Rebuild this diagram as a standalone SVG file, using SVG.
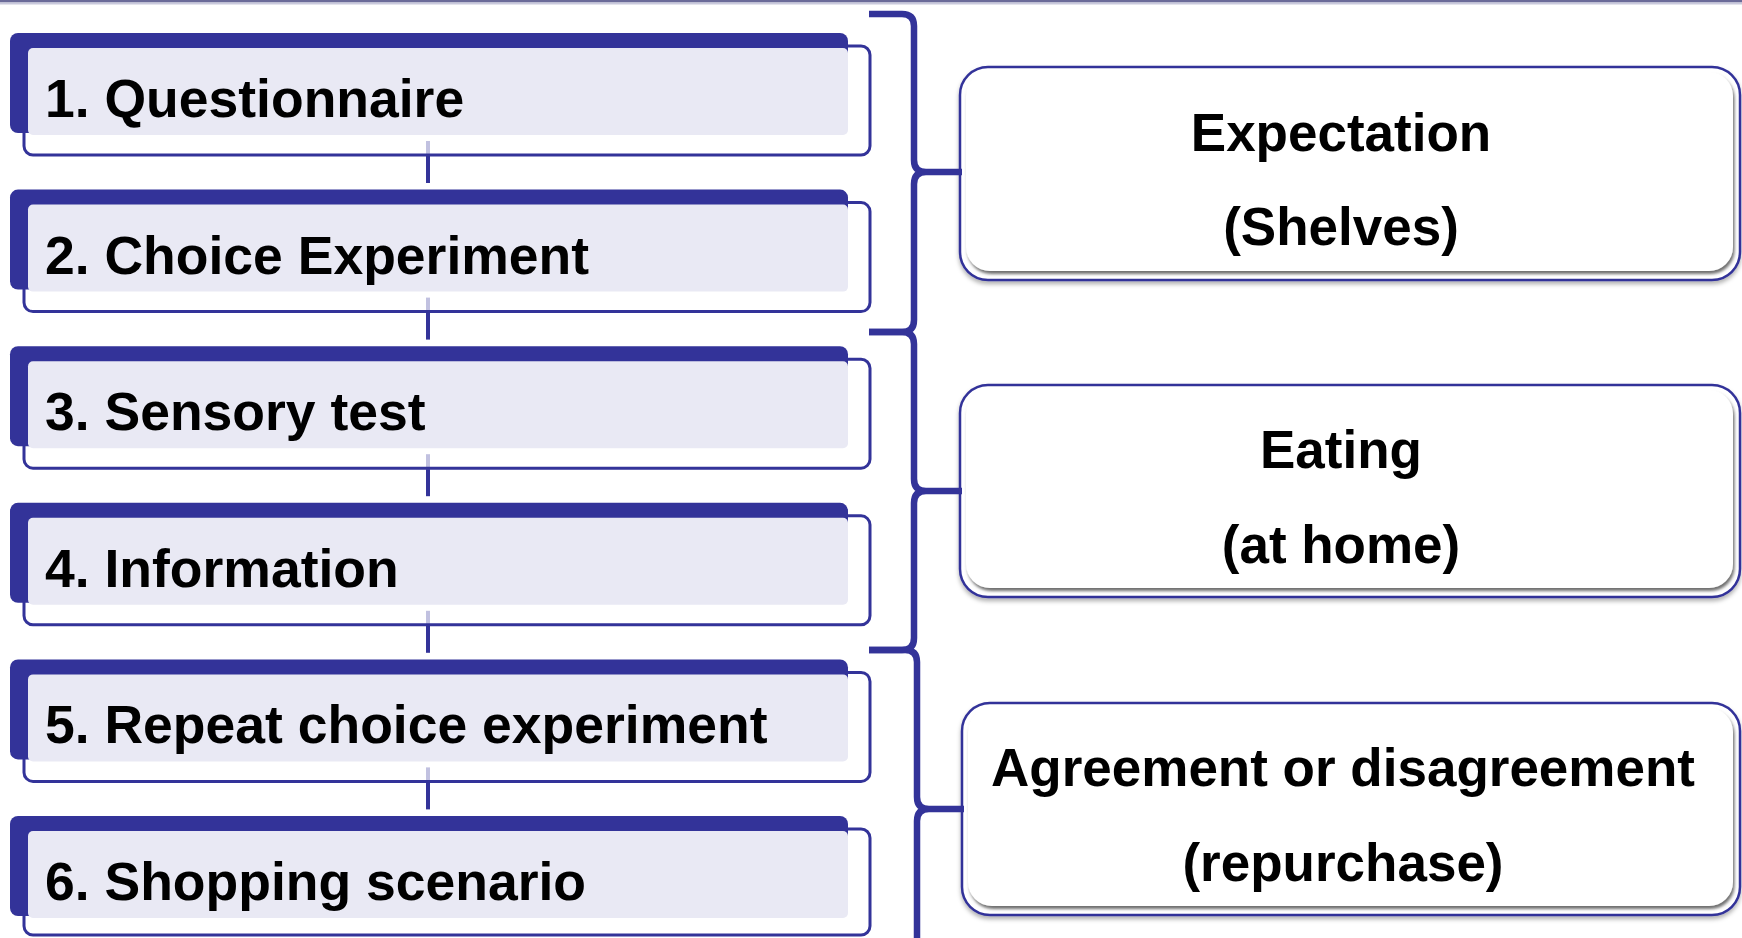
<svg xmlns="http://www.w3.org/2000/svg" width="1742" height="938" viewBox="0 0 1742 938">
<style>
.outline{fill:#ffffff;stroke:#333399;stroke-width:3}
.tab{fill:#333399}
.inner{fill:#e9e9f4}
.lt{font-family:"Liberation Sans",Arial,sans-serif;font-weight:bold;font-size:53.5px;fill:#000}
.rt{font-family:"Liberation Sans",Arial,sans-serif;font-weight:bold;font-size:53px;fill:#000;text-anchor:middle}
.router{fill:#ffffff;stroke:#333399;stroke-width:2.5}
.rinner{fill:#ffffff}
.conn{stroke:#333399;stroke-width:4;fill:none}
.faded{stroke:#333399;stroke-width:4;fill:none;opacity:0.3}
.brace{stroke:#333399;stroke-width:6.5;fill:none;stroke-linejoin:round}
</style>
<defs>
<filter id="outerShadow" x="-5%" y="-10%" width="110%" height="125%">
<feDropShadow dx="0" dy="3" stdDeviation="2" flood-color="#000" flood-opacity="0.3"/>
</filter>
<filter id="bevel" x="-5%" y="-10%" width="110%" height="125%">
<feDropShadow dx="1.5" dy="3" stdDeviation="1.5" flood-color="#555" flood-opacity="0.85"/>
</filter>
</defs>
<rect x="0" y="0" width="1742" height="938" fill="#ffffff"/>
<line x1="0" y1="1.2" x2="1742" y2="1.2" stroke="#6b6b99" stroke-width="2.5"/>
<line x1="0" y1="3.5" x2="1742" y2="3.5" stroke="#c9c9dc" stroke-width="2"/>

<g id="step1">
<rect class="outline" x="24" y="46" width="846" height="109" rx="9"/>
<rect class="tab" x="10" y="33" width="838" height="100" rx="8"/>
<rect class="inner" x="28" y="48" width="820" height="87" rx="5"/>
<text class="lt" x="45" y="117">1. Questionnaire</text>
</g>
<g id="step2">
<rect class="outline" x="24" y="202.6" width="846" height="109" rx="9"/>
<rect class="tab" x="10" y="189.6" width="838" height="100" rx="8"/>
<rect class="inner" x="28" y="204.6" width="820" height="87" rx="5"/>
<text class="lt" x="45" y="273.6">2. Choice Experiment</text>
</g>
<g id="step3">
<rect class="outline" x="24" y="359.2" width="846" height="109" rx="9"/>
<rect class="tab" x="10" y="346.2" width="838" height="100" rx="8"/>
<rect class="inner" x="28" y="361.2" width="820" height="87" rx="5"/>
<text class="lt" x="45" y="430.2">3. Sensory test</text>
</g>
<g id="step4">
<rect class="outline" x="24" y="515.8" width="846" height="109" rx="9"/>
<rect class="tab" x="10" y="502.8" width="838" height="100" rx="8"/>
<rect class="inner" x="28" y="517.8" width="820" height="87" rx="5"/>
<text class="lt" x="45" y="586.8">4. Information</text>
</g>
<g id="step5">
<rect class="outline" x="24" y="672.4" width="846" height="109" rx="9"/>
<rect class="tab" x="10" y="659.4" width="838" height="100" rx="8"/>
<rect class="inner" x="28" y="674.4" width="820" height="87" rx="5"/>
<text class="lt" x="45" y="743.4">5. Repeat choice experiment</text>
</g>
<g id="step6">
<rect class="outline" x="24" y="829" width="846" height="106" rx="9"/>
<rect class="tab" x="10" y="816" width="838" height="100" rx="8"/>
<rect class="inner" x="28" y="831" width="820" height="87" rx="5"/>
<text class="lt" x="45" y="900">6. Shopping scenario</text>
</g>

<g id="expectation">
<rect class="router" x="960" y="67" width="780" height="213" rx="28" filter="url(#outerShadow)"/>
<rect class="rinner" x="966" y="72" width="767" height="199" rx="24" filter="url(#bevel)"/>
<text class="rt" x="1341" y="151">Expectation</text>
<text class="rt" x="1341" y="245">(Shelves)</text>
</g>
<g id="eating">
<rect class="router" x="960" y="385" width="780" height="212" rx="28" filter="url(#outerShadow)"/>
<rect class="rinner" x="966" y="390" width="767" height="198" rx="24" filter="url(#bevel)"/>
<text class="rt" x="1341" y="468">Eating</text>
<text class="rt" x="1341" y="563">(at home)</text>
</g>
<g id="agreement">
<rect class="router" x="962" y="703" width="778" height="212" rx="28" filter="url(#outerShadow)"/>
<rect class="rinner" x="968" y="708" width="765" height="198" rx="24" filter="url(#bevel)"/>
<text class="rt" x="1343" y="786">Agreement or disagreement</text>
<text class="rt" x="1343" y="881">(repurchase)</text>
</g>

<g id="connectors">
<line class="faded" x1="428" y1="141" x2="428" y2="155"/>
<line class="conn" x1="428" y1="156" x2="428" y2="183"/>
<line class="faded" x1="428" y1="297.6" x2="428" y2="311.6"/>
<line class="conn" x1="428" y1="312.6" x2="428" y2="339.6"/>
<line class="faded" x1="428" y1="454.2" x2="428" y2="468.2"/>
<line class="conn" x1="428" y1="469.2" x2="428" y2="496.2"/>
<line class="faded" x1="428" y1="610.8" x2="428" y2="624.8"/>
<line class="conn" x1="428" y1="625.8" x2="428" y2="652.8"/>
<line class="faded" x1="428" y1="767.4" x2="428" y2="781.4"/>
<line class="conn" x1="428" y1="782.4" x2="428" y2="809.4"/>
<path class="brace" d="M869,14 L902,14 Q914,14 914,26 L914,160 Q914,172 926,172 L962,172 M926,172 Q914,172 914,184 L914,320 Q914,332 902,332 L869,332"/>
<path class="brace" d="M869,332 L902,332 Q914,332 914,344 L914,479 Q914,491 926,491 L962,491 M926,491 Q914,491 914,503 L914,638 Q914,650 902,650 L869,650"/>
<path class="brace" d="M869,650 L905,650 Q917,650 917,662 L917,797 Q917,809 929,809 L964,809 M929,809 Q917,809 917,821 L917,968"/>
</g>
</svg>
